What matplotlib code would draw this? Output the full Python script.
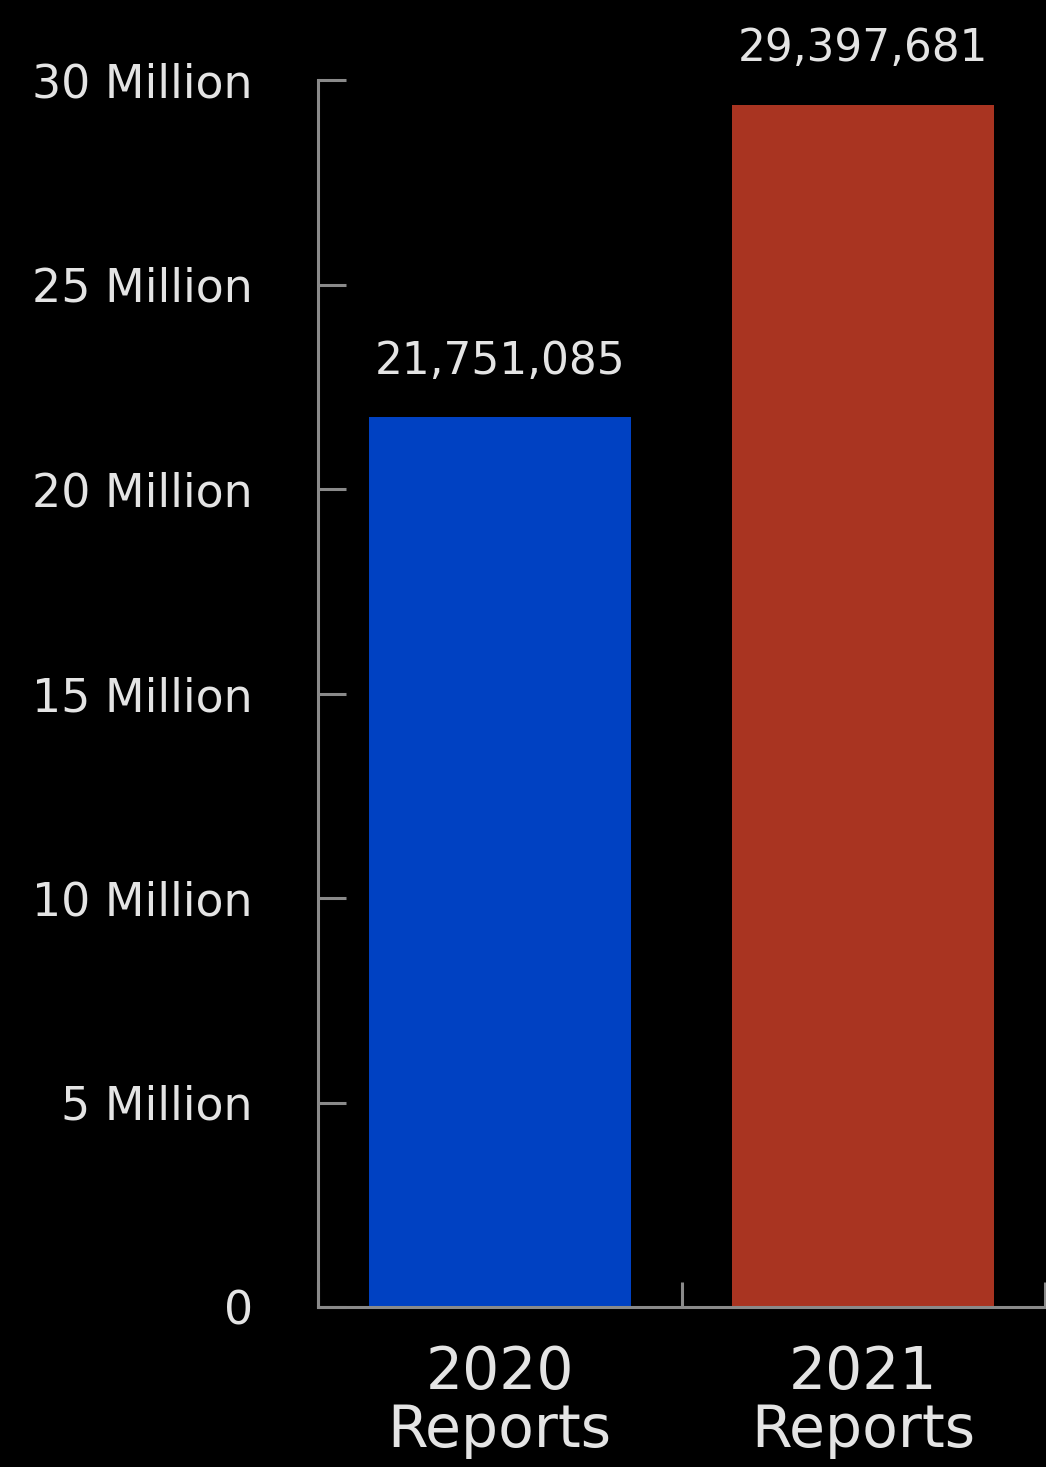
import matplotlib
matplotlib.use("Agg")
import matplotlib.pyplot as plt
from matplotlib.ticker import FuncFormatter, FixedLocator

# данные
categories = ["2020\nReports", "2021\nReports"]
reports = [21751085, 29397681]
bar_colors = ["#0041C2", "#A93421"]
y_ticks = [0, 5e6, 10e6, 15e6, 20e6, 25e6, 30e6]

TEXT = "#e4e4e4"
AXIS = "#8a8a8a"

plt.rcParams["font.family"] = "DejaVu Sans"

fig = plt.figure(figsize=(10.46, 14.67), dpi=100, facecolor="black")
W, H = 1046, 1467
ax = fig.add_axes([318 / W, 1 - 1307 / H, (1045 - 318) / W, (1307 - 80) / H])
ax.set_facecolor("black")

x = range(len(categories))
ax.bar(x, reports, width=0.72, color=bar_colors)

for xi, v in zip(x, reports):
    ax.annotate(f"{v:,}", (xi, v), xytext=(0, 25), textcoords="offset points",
                ha="center", va="bottom", color=TEXT, fontsize=31.5)

ax.set_xlim(-0.5, 1.5)
ax.set_ylim(0, 30e6)

ax.set_yticks(y_ticks)
ax.yaxis.set_major_formatter(
    FuncFormatter(lambda v, _: "0" if v == 0 else f"{int(v / 1e6)} Million"))
ax.tick_params(axis="y", direction="in", length=20, width=2.2, color=AXIS,
               pad=47, labelcolor=TEXT, labelsize=33)

ax.set_xticks(list(x))
ax.set_xticklabels(categories, linespacing=1.02)
ax.tick_params(axis="x", which="major", length=0, pad=27, labelcolor=TEXT,
               labelsize=42)
ax.xaxis.set_minor_locator(FixedLocator([-0.5, 0.5, 1.5]))
ax.tick_params(axis="x", which="minor", direction="in", length=18, width=2.2,
               color=AXIS)

for s in ["top", "right"]:
    ax.spines[s].set_visible(False)
for s in ["left", "bottom"]:
    ax.spines[s].set_color(AXIS)
    ax.spines[s].set_linewidth(2.2)

fig.savefig("out.png", dpi=100, facecolor="black")
